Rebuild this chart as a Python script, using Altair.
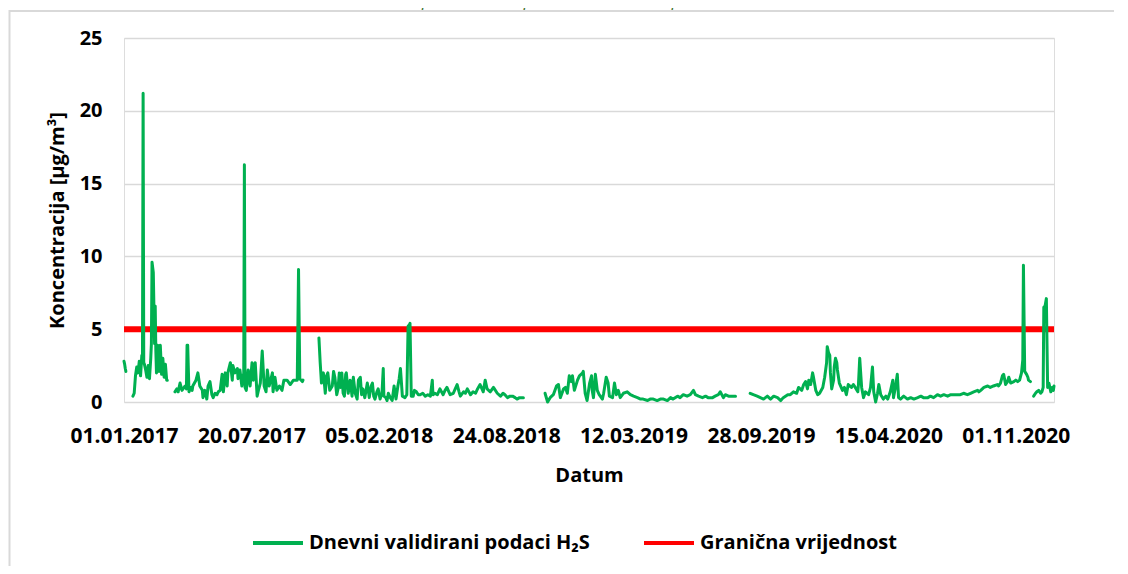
import altair as alt
import pandas as pd

START = "2017-01-01"
END = "2020-12-31"

# (day offset from 01.01.2017, concentration µg/m³); gaps separate segments
seg1 = [(0, 2.8), (1, 2.6), (2, 2.3), (3, 2.1)]
seg2 = [(14, 0.4), (16, 0.6), (18, 1.8), (20, 2.4), (22, 2.0), (24, 2.8), (26, 1.8), (28, 3.2), (29, 3.0),
        (30, 21.2), (31, 2.7), (32, 2.6), (34, 2.2), (36, 1.7), (38, 2.5), (40, 1.6), (42, 3.0), (43, 4.0),
        (44, 9.6), (46, 8.9), (48, 4.0), (49, 6.6), (50, 3.5), (51, 2.0), (53, 3.9), (55, 2.1), (57, 3.9),
        (59, 1.9), (61, 3.0), (63, 1.7), (65, 2.6), (67, 1.5), (68, 1.5)]
seg3 = [(80, 0.7), (83, 0.9), (85, 0.7), (88, 1.3), (91, 0.8), (96, 1.1), (98, 0.9), (99, 3.9), (100, 3.9),
        (102, 0.7), (105, 1.0), (107, 0.8), (108, 1.1), (113, 1.5), (116, 2.0), (119, 1.1), (123, 0.8),
        (124, 0.3), (127, 0.8), (130, 0.2), (132, 1.1), (135, 1.4), (138, 0.5), (140, 0.3), (143, 0.6),
        (146, 0.5), (148, 0.7), (151, 0.8), (154, 1.9), (156, 0.7), (159, 2.0), (162, 1.1), (163, 2.0),
        (167, 2.7), (170, 1.5), (171, 2.5), (174, 2.0), (178, 2.3), (179, 1.6), (182, 2.2), (185, 1.1),
        (188, 2.0), (189, 16.3), (190, 1.0), (192, 0.8), (195, 2.2), (198, 1.1), (201, 2.7), (203, 1.5),
        (206, 2.7), (209, 0.4), (211, 0.8), (214, 1.3), (217, 3.5), (220, 1.1), (223, 0.7), (225, 2.2),
        (228, 1.1), (233, 2.0), (234, 0.7), (237, 1.7), (240, 0.8), (244, 1.1), (248, 0.8), (251, 1.5),
        (256, 1.5), (261, 1.2), (266, 1.5), (272, 1.5), (274, 9.1), (276, 1.6), (280, 1.4), (281, 1.5)]
seg4 = [(306, 4.4), (308, 2.7), (310, 1.3), (313, 2.0), (316, 0.6), (318, 1.8), (320, 2.0), (323, 0.8),
        (327, 1.1), (329, 2.1), (331, 1.7), (334, 0.5), (336, 0.9), (338, 2.0), (340, 1.0), (342, 2.0),
        (344, 0.6), (346, 0.4), (348, 1.9), (349, 2.0), (352, 0.6), (355, 1.5), (358, 0.4), (360, 1.7),
        (363, 0.6), (366, 0.2), (368, 1.5), (371, 1.7), (373, 0.5), (375, 0.9), (378, 0.3), (382, 1.3),
        (385, 0.3), (388, 1.1), (390, 1.3), (392, 0.4), (394, 0.2), (397, 0.7), (399, 0.9), (402, 0.2),
        (405, 0.6), (407, 2.3), (408, 0.4), (411, 0.3), (413, 0.1), (415, 0.6), (418, 0.3), (421, 0.1),
        (424, 1.1), (427, 0.2), (430, 1.1), (432, 1.6), (434, 2.3), (437, 0.4), (441, 0.3), (444, 0.5),
        (446, 5.2), (448, 5.3), (449, 5.4), (451, 0.4), (454, 0.4), (456, 0.8), (459, 0.7), (462, 0.5),
        (465, 0.5), (469, 0.6), (473, 0.4), (477, 0.5), (481, 0.4), (484, 1.5), (485, 0.5), (488, 0.6),
        (492, 0.5), (496, 0.9), (501, 0.5), (504, 0.8), (507, 1.0), (510, 0.7), (512, 0.5), (517, 0.6),
        (520, 0.9), (523, 1.2), (526, 0.7), (528, 0.4), (533, 0.7), (536, 0.6), (539, 0.9), (544, 0.5),
        (548, 0.7), (552, 0.6), (555, 0.9), (559, 1.2), (562, 0.9), (564, 0.7), (567, 1.5), (570, 0.9),
        (575, 0.7), (580, 1.0), (586, 0.6), (591, 0.4), (595, 0.6), (598, 0.5), (602, 0.3), (606, 0.4),
        (610, 0.4), (614, 0.3), (617, 0.2), (621, 0.3), (625, 0.3), (627, 0.3)]
seg5 = [(661, 0.6), (665, 0.0), (669, 0.3), (674, 0.5), (679, 1.1), (682, 1.2), (685, 0.3), (690, 0.9),
        (693, 1.0), (696, 0.6), (699, 1.8), (702, 1.4), (704, 1.8), (707, 0.8), (712, 1.5), (715, 1.8),
        (720, 2.0), (721, 2.1), (724, 0.6), (727, 0.1), (731, 1.3), (734, 1.8), (735, 0.8), (737, 0.3),
        (740, 1.9), (743, 0.8), (746, 0.5), (751, 0.2), (753, 0.6), (757, 1.7), (760, 1.3), (762, 0.4),
        (767, 0.3), (770, 1.3), (773, 0.5), (776, 0.8), (779, 0.3), (784, 0.6), (790, 0.7), (795, 0.5),
        (800, 0.4), (806, 0.3), (811, 0.2), (815, 0.2), (822, 0.1), (826, 0.2), (831, 0.2), (837, 0.1),
        (842, 0.2), (847, 0.2), (853, 0.1), (858, 0.3), (862, 0.2), (869, 0.4), (873, 0.3), (878, 0.5),
        (884, 0.4), (889, 0.5), (894, 0.8), (897, 0.5), (902, 0.4), (908, 0.3), (913, 0.4), (917, 0.3),
        (924, 0.3), (928, 0.4), (933, 0.5), (936, 0.7), (941, 0.3), (944, 0.5), (949, 0.4), (955, 0.4),
        (960, 0.4)]
seg6 = [(983, 0.6), (988, 0.5), (994, 0.4), (999, 0.3), (1004, 0.2), (1010, 0.4), (1015, 0.2), (1020, 0.4),
        (1026, 0.3), (1031, 0.1), (1035, 0.3), (1042, 0.5), (1046, 0.5), (1051, 0.7), (1056, 0.6),
        (1059, 1.0), (1064, 0.8), (1067, 1.2), (1070, 1.4), (1073, 0.9), (1075, 1.5), (1078, 1.2),
        (1081, 2.0), (1082, 1.8), (1086, 0.8), (1089, 0.5), (1092, 0.6), (1097, 1.0), (1100, 1.7),
        (1103, 2.7), (1104, 3.8), (1106, 3.4), (1108, 3.2), (1109, 2.0), (1111, 0.9), (1114, 1.5),
        (1115, 2.4), (1117, 3.0), (1119, 2.7), (1120, 2.2), (1123, 1.3), (1128, 0.8), (1131, 1.0),
        (1134, 0.5), (1137, 1.2), (1142, 1.0), (1145, 1.2), (1148, 1.0), (1152, 0.7), (1153, 1.2),
        (1155, 3.0), (1158, 1.0), (1161, 0.3), (1164, 0.7), (1169, 0.5), (1172, 1.0), (1175, 2.4),
        (1177, 0.7), (1180, 0.0), (1183, 0.6), (1185, 1.2), (1188, 0.5), (1192, 0.2), (1196, 0.4),
        (1199, 0.2), (1203, 0.7), (1207, 1.5), (1208, 0.3), (1211, 1.0), (1214, 1.9), (1216, 0.3),
        (1219, 0.2), (1224, 0.4), (1230, 0.2), (1235, 0.3), (1240, 0.2), (1246, 0.3), (1251, 0.4),
        (1255, 0.3), (1262, 0.3), (1266, 0.4), (1271, 0.3), (1277, 0.5), (1282, 0.4), (1287, 0.5),
        (1293, 0.4), (1298, 0.5), (1302, 0.5), (1309, 0.5), (1313, 0.5), (1318, 0.6), (1324, 0.5),
        (1329, 0.6), (1334, 0.7), (1340, 0.8), (1342, 0.7), (1345, 0.8), (1350, 1.0), (1356, 1.1),
        (1360, 1.0), (1365, 1.1), (1371, 1.2), (1373, 1.1), (1376, 1.3), (1379, 1.8), (1381, 1.9),
        (1384, 1.2), (1387, 1.4), (1389, 1.7), (1392, 1.3), (1397, 1.4), (1400, 1.5), (1403, 1.4),
        (1406, 1.5), (1409, 2.0), (1411, 2.9), (1412, 9.4), (1414, 2.1), (1417, 1.9), (1419, 1.7),
        (1420, 1.5), (1423, 1.4)]
seg7 = [(1428, 0.4), (1431, 0.6), (1433, 0.7), (1436, 0.8), (1439, 0.6), (1441, 0.7), (1443, 1.0),
        (1444, 6.5), (1446, 6.6), (1448, 7.1), (1450, 1.0), (1452, 1.3), (1455, 0.7), (1457, 1.0),
        (1459, 0.8), (1460, 1.1)]
segments = [seg1, seg2, seg3, seg4, seg5, seg6, seg7]

limit_value = 5
series_names = ["Dnevni validirani podaci H\u2082S", "Grani\u010dna vrijednost"]
series_colors = ["#00B050", "#FF0000"]
tick_dates = ["2017-01-01", "2017-07-20", "2018-02-05", "2018-08-24",
              "2019-03-12", "2019-09-28", "2020-04-15", "2020-11-01"]
y_ticks = [0, 5, 10, 15, 20, 25]
source_text = "Izvor podataka: http://iszz.azo.hr/iskzl/podatak.htm"

start_ts = pd.Timestamp(START)
rows = []
for i, seg in enumerate(segments):
    for d, v in seg:
        rows.append({"date": (start_ts + pd.Timedelta(days=d)).strftime("%Y-%m-%d"),
                     "value": v, "seg": i, "series": series_names[0]})
df = pd.DataFrame(rows)
limit_df = pd.DataFrame({"date": [START, END], "value": [limit_value, limit_value],
                         "series": [series_names[1]] * 2})


def dt(s):
    y, m, d = (int(p) for p in s.split("-"))
    return alt.DateTime(year=y, month=m, date=d, utc=True)


FONT = "Open Sans"
x_enc = alt.X("date:T",
              scale=alt.Scale(type="utc", domain=[dt(START), dt(END)]),
              axis=alt.Axis(values=[dt(s) for s in tick_dates],
                            labelExpr="utcFormat(datum.value, '%d.%m.%Y')",
                            title="Datum", grid=False, ticks=False, tickSize=0, domain=False,
                            labelFont=FONT, labelFontWeight="bold", labelColor="#000000",
                            titleFont=FONT, titleFontWeight="bold", titleColor="#000000",
                            labelPadding=23, labelFontSize=21, titleFontSize=20,
                            titlePadding=19, labelOverlap=False, labelFlush=False))
y_enc = alt.Y("value:Q",
              scale=alt.Scale(domain=[0, 25]),
              axis=alt.Axis(values=y_ticks, title="Koncentracija [\u00b5g/m\u00b3]", grid=True,
                            gridColor="#D9D9D9", gridWidth=1.5,
                            labelFont=FONT, labelFontWeight="bold", labelColor="#000000",
                            titleFont=FONT, titleFontWeight="bold", titleColor="#000000",
                            ticks=False, tickSize=0, domain=False, labelPadding=22,
                            labelFontSize=20, titleFontSize=20, titleX=-67, titleY=182,
                            titleBaseline="middle", titleAlign="center", titleAngle=-90))
color_enc = alt.Color("series:N",
                      scale=alt.Scale(domain=series_names, range=series_colors),
                      legend=alt.Legend(title=None, orient="none", direction="horizontal",
                                        legendX=127, legendY=478, symbolType="stroke",
                                        symbolSize=2500, symbolStrokeWidth=4, labelFontSize=20,
                                        labelFont=FONT, labelFontWeight="bold", labelColor="#000000",
                                        labelOffset=4, columnPadding=46, padding=0, labelLimit=500))

green = alt.Chart(df).mark_line(strokeWidth=3, strokeJoin="round", strokeCap="round").encode(
    x=x_enc, y=y_enc, detail="seg:N", color=color_enc)
red = alt.Chart(limit_df).mark_line(strokeWidth=6, strokeCap="butt").encode(
    x=x_enc, y=y_enc, color=color_enc)

frame = alt.Chart(pd.DataFrame({"k": [0]})).mark_rect(
    fillOpacity=0, stroke="#D9D9D9", strokeWidth=2).encode(
    x=alt.value(-114.5), x2=alt.value(993), y=alt.value(-27), y2=alt.value(700))
source = alt.Chart(pd.DataFrame({"t": [source_text]})).mark_text(
    font=FONT, fontStyle="italic", fontSize=17, color="#3B6E2A",
    align="center", baseline="alphabetic").encode(
    text="t:N", x=alt.value(451), y=alt.value(-32))

chart = alt.layer(frame, source, red, green).properties(
    width=930, height=364,
    autosize=alt.AutoSizeParams(type="none"),
    padding={"left": 116, "top": 30, "right": 60, "bottom": 164},
).configure_view(stroke=None).configure(background="white")

chart.save("out.html", embed_options={"renderer": "svg", "actions": False})
